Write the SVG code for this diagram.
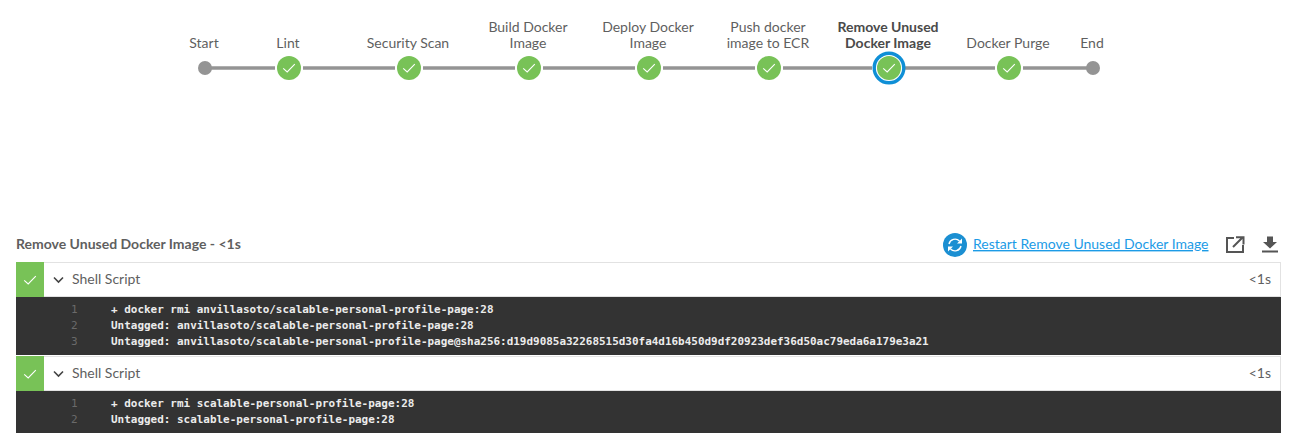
<svg xmlns="http://www.w3.org/2000/svg" width="1294" height="446" viewBox="0 0 1294 446">
<defs>
<style>
text{font-family:Lato,"Open Sans","Liberation Sans",sans-serif}
.lb{font-size:14px;fill:#5f5f5f;text-anchor:middle}
.bold{font-weight:700;fill:#4a4a4a}
.conn{stroke:#949494;stroke-width:3.4;fill:none}
.dot{fill:#949494}
.ok{fill:#78c257}
.chk{fill:none;stroke:#fff;stroke-width:1.1}
.step{font-size:14px;fill:#5f5f5f}
.dur{font-size:14px;fill:#5f5f5f;text-anchor:end}
.log{font-family:"DejaVu Sans Mono","Liberation Mono",monospace;font-size:10.96px;font-weight:700;fill:#ececec}
.ln{font-family:"DejaVu Sans Mono","Liberation Mono",monospace;font-size:11px;fill:#6a6a6a}
.term{fill:#333}
</style>
<path id="tick" class="chk" d="M-5.800 .3L-1.800 4L5.800 -3.800"/>
</defs>
<rect width="1294" height="446" fill="#fff"/>
<g id="connectors">
<line class="conn" x1="205" y1="68" x2="275" y2="68"/>
<line class="conn" x1="303" y1="68" x2="395" y2="68"/>
<line class="conn" x1="423" y1="68" x2="515" y2="68"/>
<line class="conn" x1="543" y1="68" x2="635" y2="68"/>
<line class="conn" x1="663" y1="68" x2="755" y2="68"/>
<line class="conn" x1="783" y1="68" x2="872" y2="68"/>
<line class="conn" x1="905" y1="68" x2="995" y2="68"/>
<line class="conn" x1="1023" y1="68" x2="1093" y2="68"/>
</g>
<g id="node-start"><text class="lb" x="204" y="48">Start</text><circle class="dot" cx="205" cy="68" r="7"/></g>
<g id="node-lint"><text class="lb" x="288" y="48">Lint</text><circle class="ok" cx="289" cy="68" r="12"/><use href="#tick" x="289" y="68"/></g>
<g id="node-security"><text class="lb" x="408" y="48">Security Scan</text><circle class="ok" cx="409" cy="68" r="12"/><use href="#tick" x="409" y="68"/></g>
<g id="node-build"><text class="lb" x="528" y="32">Build Docker</text><text class="lb" x="528" y="48">Image</text><circle class="ok" cx="529" cy="68" r="12"/><use href="#tick" x="529" y="68"/></g>
<g id="node-deploy"><text class="lb" x="648" y="32">Deploy Docker</text><text class="lb" x="648" y="48">Image</text><circle class="ok" cx="649" cy="68" r="12"/><use href="#tick" x="649" y="68"/></g>
<g id="node-push"><text class="lb" x="768" y="32">Push docker</text><text class="lb" x="768" y="48">image to ECR</text><circle class="ok" cx="769" cy="68" r="12"/><use href="#tick" x="769" y="68"/></g>
<g id="node-remove"><text class="lb bold" x="888" y="32">Remove Unused</text><text class="lb bold" x="888" y="48">Docker Image</text><circle cx="889" cy="68" r="14.800" fill="#fff" stroke="#0f8fd6" stroke-width="3.400"/><circle class="ok" cx="889" cy="68" r="12"/><use href="#tick" x="889" y="68"/></g>
<g id="node-purge"><text class="lb" x="1008" y="48">Docker Purge</text><circle class="ok" cx="1009" cy="68" r="12"/><use href="#tick" x="1009" y="68"/></g>
<g id="node-end"><text class="lb" x="1092" y="48">End</text><circle class="dot" cx="1093" cy="68" r="7"/></g>
<g id="header">
<text x="16" y="249" font-size="14" font-weight="700" fill="#5f5f5f">Remove Unused Docker Image - &lt;1s</text>
<circle cx="955" cy="245" r="12" fill="#1b8fd2"/>
<g fill="none" stroke="#fff" stroke-width="1.400"><path d="M949 244A6.200 6.200 0 0 1 959.500 241"/><path d="M961 246A6.200 6.200 0 0 1 950.500 249"/></g>
<path d="M962 238.500V243.500H957Z M948 251.500V246.500H953Z" fill="#fff"/>
<text x="973" y="249" font-size="14" fill="#1c9be6" text-decoration="underline">Restart Remove Unused Docker Image</text>
<path d="M1234 238H1227V252H1243V245M1233 247L1242 238M1236 237.200H1243.500V244.500" fill="none" stroke="#555" stroke-width="2"/>
<path d="M1267 236.500H1273V242H1277L1270 248.500L1263 242H1267ZM1262 250.500H1278V252.500H1262Z" fill="#555"/>
</g>
<g id="step-1">
<rect x="16.500" y="262.500" width="1264" height="34" fill="#fff" stroke="#e2e2e2"/>
<rect x="16" y="262" width="28" height="35" class="ok"/>
<use href="#tick" x="30" y="280"/>
<path d="M54 277.500L58.500 282L63 277.500" fill="none" stroke="#444" stroke-width="1.600"/>
<text class="step" x="72" y="284">Shell Script</text>
<text class="dur" x="1271" y="284">&lt;1s</text>
<rect class="term" x="16" y="297" width="1265" height="58"/>
<text class="ln" x="71" y="313">1</text><text class="log" x="111" y="313">+ docker rmi anvillasoto/scalable-personal-profile-page:28</text>
<text class="ln" x="71" y="329">2</text><text class="log" x="111" y="329">Untagged: anvillasoto/scalable-personal-profile-page:28</text>
<text class="ln" x="71" y="345">3</text><text class="log" x="111" y="345">Untagged: anvillasoto/scalable-personal-profile-page@sha256:d19d9085a32268515d30fa4d16b450d9df20923def36d50ac79eda6a179e3a21</text>
</g>
<g id="step-2">
<rect x="16.500" y="356.500" width="1264" height="34" fill="#fff" stroke="#e2e2e2"/>
<rect x="16" y="356" width="28" height="35" class="ok"/>
<use href="#tick" x="30" y="374"/>
<path d="M54 371.500L58.500 376L63 371.500" fill="none" stroke="#444" stroke-width="1.600"/>
<text class="step" x="72" y="378">Shell Script</text>
<text class="dur" x="1271" y="378">&lt;1s</text>
<rect class="term" x="16" y="391" width="1265" height="42"/>
<text class="ln" x="71" y="407">1</text><text class="log" x="111" y="407">+ docker rmi scalable-personal-profile-page:28</text>
<text class="ln" x="71" y="423">2</text><text class="log" x="111" y="423">Untagged: scalable-personal-profile-page:28</text>
</g>
</svg>
